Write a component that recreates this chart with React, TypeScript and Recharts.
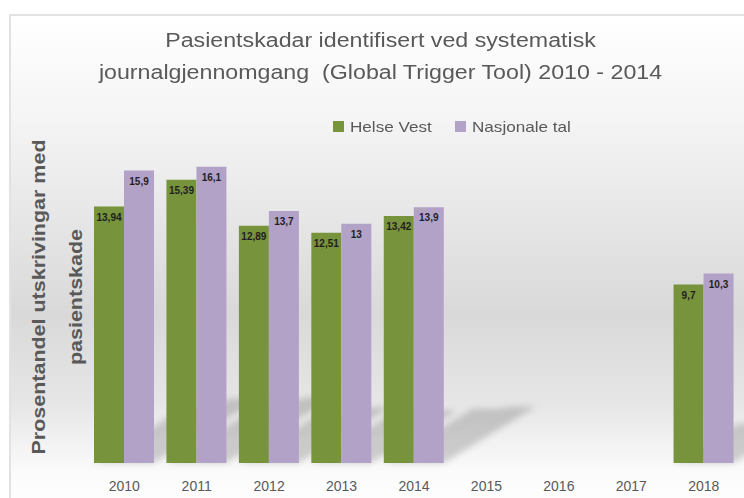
import { BarChart, Bar, XAxis, YAxis, LabelList } from "recharts";

const years = ["2010", "2011", "2012", "2013", "2014", "2015", "2016", "2017", "2018"];
const helseVest = [13.94, 15.39, 12.89, 12.51, 13.42, null, null, null, 9.7];
const nasjonaleTal = [15.9, 16.1, 13.7, 13, 13.9, null, null, null, 10.3];
const seriesNames = ["Helse Vest", "Nasjonale tal"];
const seriesColors = ["#77933c", "#b3a2c7"];

const data = years.map((year, i) => ({ year, hv: helseVest[i], nt: nasjonaleTal[i] }));

const FONT = "'Liberation Sans', Arial, sans-serif";
const TEXT = "#595959";

const fmt = (v: any) => (v == null ? "" : String(v).replace(".", ","));

// soft floor shadow behind each bar
const ShadowShape = (props: any) => {
  const { x, y, width, height } = props;
  if (!height || height <= 0) return null;
  const b = y + height;
  const dx = height * 0.36;
  const dy = height * 0.22;
  return (
    <polygon
      points={`${x},${b} ${x + width},${b} ${x + width + dx},${b - dy} ${x + dx},${b - dy}`}
      fill="rgba(0,0,0,0.17)"
      style={{ filter: "blur(3px)" }}
    />
  );
};

const legendLeft = [333, 455];

export default function App() {
  return (
    <div style={{ position: "absolute", left: 0, top: 0, width: 744, height: 498, overflow: "hidden", background: "#fff" }}>
      <div
        style={{
          position: "absolute", left: 9, top: 14, width: 760, height: 500,
          border: "2px solid #e2e2e2", boxSizing: "border-box",
          background: "linear-gradient(to bottom, #ffffff 0%, #f5f5f5 20%, #d9d9d9 60%, #e6e6e6 78%, #fbfbfb 92%, #ffffff 100%)",
        }}
      />
      <div style={{ position: "absolute", left: 0, top: 0 }}>
        <BarChart width={744} height={498} data={data} margin={{ top: 95, right: 4, bottom: 5, left: 88 }} barGap={0}>
          <XAxis xAxisId="s" dataKey="year" hide />
          <XAxis dataKey="year" axisLine={false} tickLine={false} height={30} tickMargin={12}
            tick={{ fill: TEXT, fontSize: 14, fontFamily: FONT }} interval={0} />
          <YAxis hide domain={[0, 20]} />
          <Bar xAxisId="s" dataKey="hv" barSize={30} shape={ShadowShape} legendType="none" isAnimationActive={false} />
          <Bar xAxisId="s" dataKey="nt" barSize={30} shape={ShadowShape} legendType="none" isAnimationActive={false} />
          <Bar dataKey="hv" name={seriesNames[0]} fill={seriesColors[0]} barSize={30} isAnimationActive={false}>
            <LabelList dataKey="hv" position="insideTop" offset={7} formatter={fmt}
              fill="#1f1f1f" fontSize={10} fontWeight="bold" fontFamily={FONT} />
          </Bar>
          <Bar dataKey="nt" name={seriesNames[1]} fill={seriesColors[1]} barSize={30} isAnimationActive={false}>
            <LabelList dataKey="nt" position="insideTop" offset={7} formatter={fmt}
              fill="#1f1f1f" fontSize={10} fontWeight="bold" fontFamily={FONT} />
          </Bar>
        </BarChart>
      </div>
      {seriesNames.map((name, i) => (
        <div key={name} style={{ position: "absolute", left: legendLeft[i], top: 118, display: "flex", alignItems: "center", fontFamily: FONT, fontSize: 15, color: TEXT }}>
          <span style={{ width: 11, height: 11, background: seriesColors[i], display: "inline-block", marginRight: 6 }} />
          <span style={{ display: "inline-block", transform: "scaleX(1.14)", transformOrigin: "left center" }}>{name}</span>
        </div>
      ))}
      <div style={{ position: "absolute", left: 0, top: 24, width: 761, textAlign: "center", fontFamily: FONT, fontSize: 20, lineHeight: "32px", color: TEXT, transform: "scaleX(1.16)", transformOrigin: "380.5px 0" }}>
        <div>Pasientskadar identifisert ved systematisk</div>
        <div style={{ whiteSpace: "pre" }}>journalgjennomgang  (Global Trigger Tool) 2010 - 2014</div>
      </div>
      <div
        style={{
          position: "absolute", left: 56.5 - 180, top: 297 - 37, width: 360, height: 74,
          transform: "rotate(-90deg) scaleX(1.13)", textAlign: "center", fontFamily: FONT, fontWeight: "bold",
          fontSize: 19, lineHeight: "37px", color: TEXT,
        }}
      >
        <div>Prosentandel utskrivingar med</div>
        <div>pasientskade</div>
      </div>
    </div>
  );
}
